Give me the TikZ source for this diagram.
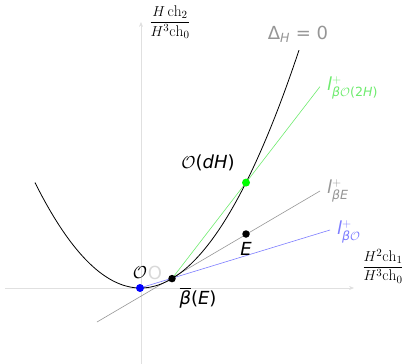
\documentclass[tikz,border=0pt]{standalone}
\usepackage{amsmath}
\usepackage{fontspec}
\setsansfont{DejaVu Sans}
\usetikzlibrary{arrows.meta}
\definecolor{lgreen}{RGB}{110,235,110}
\definecolor{lblue}{RGB}{125,125,255}
\definecolor{lgray}{RGB}{150,150,150}
\newcommand{\si}[1]{\textit{#1}}
\tikzset{
  axis/.style={draw=black!12, line width=0.7pt, -{Stealth[length=5pt,width=4pt]}},
  lbl/.style={font=\fontsize{18}{20}\selectfont\sffamily, inner sep=1pt},
  axlbl/.style={font=\fontsize{15.5}{17}\selectfont, inner sep=1pt},
  dotmark/.style={circle, fill, inner sep=0pt, minimum size=#1},
}
\begin{document}
\begin{tikzpicture}[x=1pt,y=-1pt]
\useasboundingbox (0,0) rectangle (402,364);
% axes
\coordinate (xs) at (5,288);
\coordinate (xe) at (354,288);
\coordinate (ys) at (141,364);
\coordinate (ye) at (141,22);
\draw[axis] (xs) -- (xe);
\draw[axis] (ys) -- (ye);
\node[axlbl] (xl) at (383,266) {$\dfrac{H^2\mathrm{ch}_1}{H^3\mathrm{ch}_0}$};
\node[axlbl] (yl) at (170,22) {$\dfrac{H\,\mathrm{ch}_2}{H^3\mathrm{ch}_0}$};
% points
\coordinate (O) at (140,288);
\coordinate (B) at (172,278.6);
\coordinate (G) at (246,182.6);
\coordinate (E) at (246,234);
\coordinate (grayS) at (97,322);
\coordinate (grayE) at (320,191);
\coordinate (blueE) at (330,230);
\coordinate (greenE) at (320,86.6);
% lines
\draw[lgray, line width=0.6pt] (grayS) -- (grayE);
\draw[lblue, line width=0.6pt] (O) -- (blueE);
\draw[lgreen, line width=0.6pt] (B) -- (greenE);
% parabola
\draw[black, line width=0.8pt] plot[domain=35:299, samples=120] (\x, {288 - (0.09731*(\x-140.5))^2});
% dots
\node[dotmark=8pt, fill=blue] (Od) at (O) {};
\node[dotmark=7.5pt, fill=black] (Bd) at (B) {};
\node[dotmark=8pt, fill=green] (Gd) at (G) {};
\node[dotmark=7.5pt, fill=black] (Ed) at (E) {};
% labels
\node[lbl, lgray] (dl) at (298,34) {Δ$_{\si{H}}$ = 0};
\node[lbl, lgreen, anchor=west] (gl) at (326,88) {\si{l}$^{+}_{\si{β}\mathcal{O}\text{(2\si{H})}}$};
\node[lbl, lgray, anchor=west] (bel) at (326,191) {\si{l}$^{+}_{\si{βE}}$};
\node[lbl, lblue, anchor=west] (bol) at (336,232) {\si{l}$^{+}_{\si{β}\mathcal{O}}$};
\node[lbl] (gdl) at (208,163) {$\mathcal{O}$(\si{dH})};
\node[lbl] (el) at (246,249) {\si{E}};
\node[lbl] (ol) at (140,273) {$\mathcal{O}$};
\node[lbl, black!15] (ofaint) at (155,273) {O};
\node[lbl] (bl) at (198,298) {$\overline{\text{\si{β}}}$(\si{E})};
\end{tikzpicture}
\end{document}
